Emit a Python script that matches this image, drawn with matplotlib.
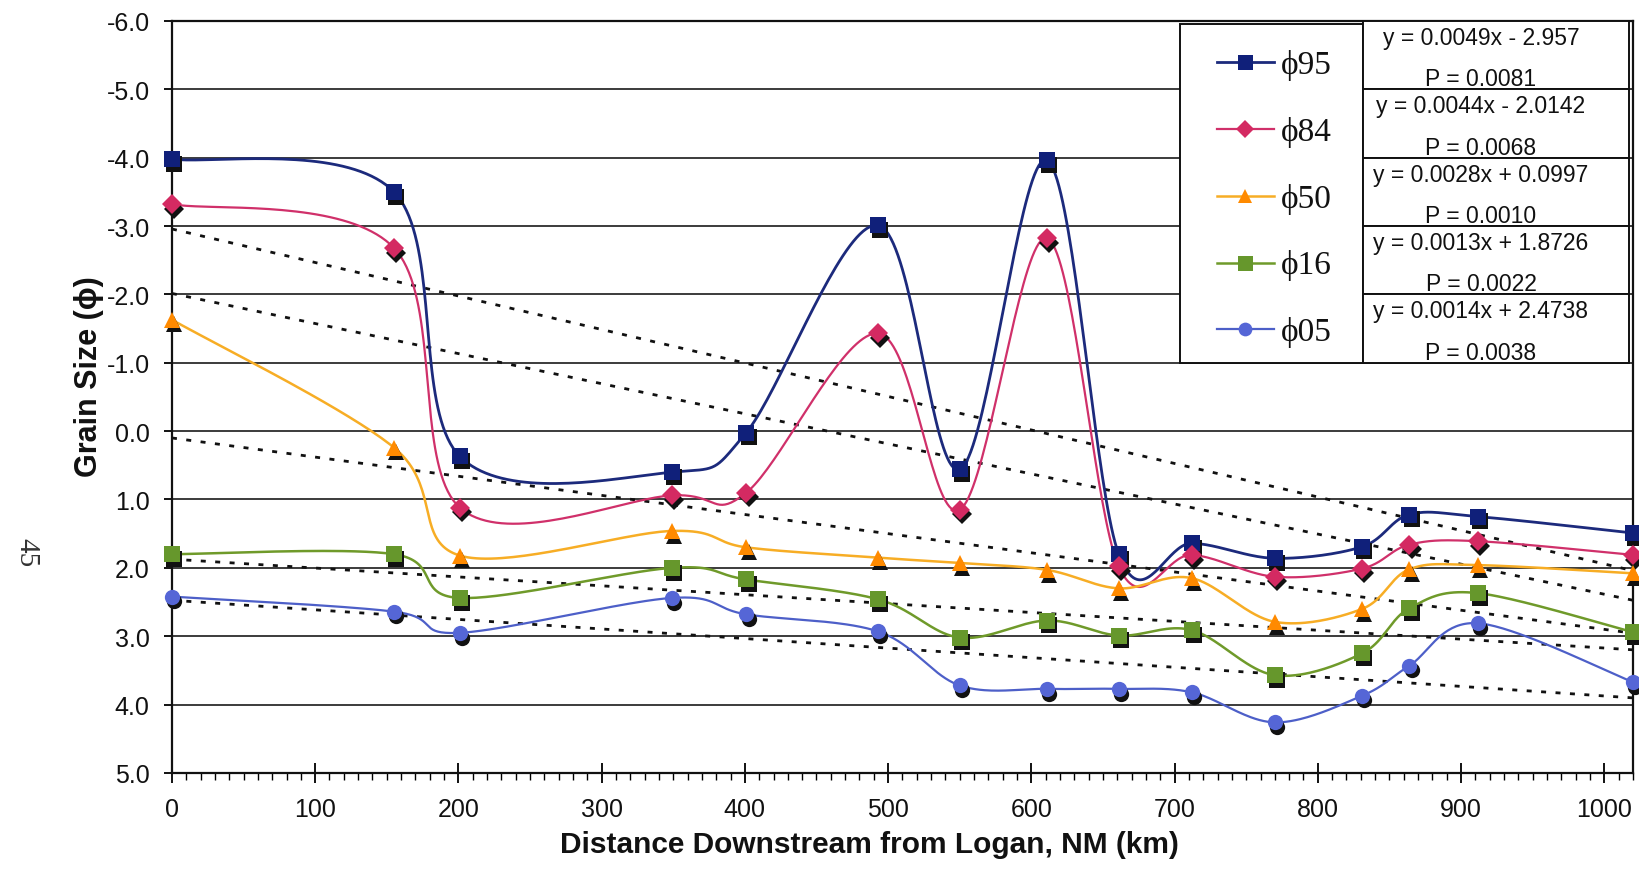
import numpy as np
import matplotlib
matplotlib.use("Agg")
import matplotlib.pyplot as plt
import matplotlib.transforms as mtransforms
from matplotlib.patches import Rectangle
from matplotlib.ticker import MultipleLocator

plt.rcParams['axes.unicode_minus'] = False

# ---------------- data ----------------
distance_km = [0, 155, 201, 349, 401, 493, 550, 611, 661, 712, 770, 831, 864, 912, 1020]
phi95 = [-3.98, -3.50, 0.37, 0.60, 0.02, -3.01, 0.56, -3.96, 1.80, 1.64, 1.86, 1.69, 1.22, 1.25, 1.49]
phi84 = [-3.32, -2.68, 1.12, 0.94, 0.90, -1.43, 1.15, -2.82, 1.98, 1.81, 2.13, 2.01, 1.66, 1.61, 1.81]
phi50 = [-1.63, 0.24, 1.82, 1.46, 1.70, 1.85, 1.93, 2.03, 2.30, 2.15, 2.79, 2.60, 2.02, 1.96, 2.08]
phi16 = [1.80, 1.80, 2.44, 2.00, 2.17, 2.46, 3.02, 2.77, 2.99, 2.91, 3.57, 3.25, 2.59, 2.37, 2.94]
phi05 = [2.42, 2.64, 2.95, 2.44, 2.68, 2.93, 3.72, 3.77, 3.77, 3.82, 4.26, 3.87, 3.43, 2.81, 3.67]

series_names = ["ϕ95", "ϕ84", "ϕ50", "ϕ16", "ϕ05"]
trend_slopes = [0.0049, 0.0044, 0.0028, 0.0013, 0.0014]
trend_intercepts = [-2.957, -2.0142, 0.0997, 1.8726, 2.4738]
equation_labels = ["y = 0.0049x - 2.957", "y = 0.0044x - 2.0142", "y = 0.0028x + 0.0997",
                   "y = 0.0013x + 1.8726", "y = 0.0014x + 2.4738"]
p_labels = ["P = 0.0081", "P = 0.0068", "P = 0.0010", "P = 0.0022", "P = 0.0038"]

x_ticks = [0, 100, 200, 300, 400, 500, 600, 700, 800, 900, 1000]
y_ticks = [-6.0, -5.0, -4.0, -3.0, -2.0, -1.0, 0.0, 1.0, 2.0, 3.0, 4.0, 5.0]

# ---------------- styles ----------------
line_colors = ['#1c2a7c', '#d0306a', '#f7ad25', '#6f9a2a', '#4d5fc8']
marker_colors = ['#10207a', '#d42a62', '#ff8a00', '#66972c', '#5566d6']
markers = ['s', 'D', '^', 's', 'o']
msizes = [12, 10.5, 11.5, 12, 11]
lwidths = [2.0, 1.6, 1.8, 1.8, 1.6]

SANS = ['Liberation Sans', 'DejaVu Sans']
SERIF = ['Liberation Serif', 'DejaVu Serif']


def excel_smooth(x, y, n=40):
    pts = np.column_stack([np.asarray(x, float), np.asarray(y, float)])
    out = []
    t = np.linspace(0, 1, n)[:, None]
    for i in range(len(pts) - 1):
        p0 = pts[i - 1] if i > 0 else pts[i]
        p1 = pts[i]
        p2 = pts[i + 1]
        p3 = pts[i + 2] if i + 2 < len(pts) else pts[i + 1]
        c1 = p1 + (p2 - p0) / 6.0
        c2 = p2 - (p3 - p1) / 6.0
        seg = ((1 - t) ** 3) * p1 + 3 * ((1 - t) ** 2) * t * c1 + 3 * (1 - t) * t ** 2 * c2 + t ** 3 * p2
        out.append(seg if i == 0 else seg[1:])
    s = np.vstack(out)
    return s[:, 0], s[:, 1]


fig = plt.figure(figsize=(16.39, 8.78), dpi=100)
ax = fig.add_axes([0.1049, 0.1185, 0.8914, 0.8565])

XMAX = 1020
ax.set_xlim(0, XMAX)
ax.set_ylim(5.0, -6.0)

# grid
for yv in y_ticks:
    ax.axhline(yv, color='#1a1a1a', lw=1.2, zorder=1)

# trend lines
xt = np.array([0, XMAX], float)
for m, b in zip(trend_slopes, trend_intercepts):
    ax.plot(xt, m * xt + b, color='#111111', lw=2.0, linestyle=(0, (1.8, 3.4)), zorder=2)

all_series = [phi95, phi84, phi50, phi16, phi05]
shadow = mtransforms.offset_copy(ax.transData, fig=fig, x=1.6, y=-3.4, units='points')
for i, ys in enumerate(all_series):
    sx, sy = excel_smooth(distance_km, ys)
    ax.plot(sx, sy, color=line_colors[i], lw=lwidths[i], zorder=3 + i * 0.1, solid_capstyle='round')
    ax.plot(distance_km, ys, linestyle='none', marker=markers[i], ms=msizes[i], color='#111111',
            markeredgewidth=0, transform=shadow, zorder=3.5 + i * 0.1, clip_on=False)
    ax.plot(distance_km, ys, linestyle='none', marker=markers[i], ms=msizes[i], color=marker_colors[i],
            markeredgewidth=0, zorder=3.6 + i * 0.1, clip_on=False)

# axes styling
for sp in ax.spines.values():
    sp.set_color('#111111')
    sp.set_linewidth(1.6)
ax.set_xticks(x_ticks)
ax.set_xticklabels([str(v) for v in x_ticks])
ax.xaxis.set_minor_locator(MultipleLocator(10))
ax.set_yticks(y_ticks)
ax.set_yticklabels([f"{v:.1f}" for v in y_ticks])
ax.tick_params(axis='x', which='major', direction='inout', length=14, width=1.4, pad=10,
               labelsize=18, colors='#111111')
ax.tick_params(axis='x', which='minor', direction='out', length=5, width=1.0)
ax.tick_params(axis='y', which='major', direction='out', length=6, width=1.4, pad=10,
               labelsize=18, colors='#111111')
for lab in ax.get_xticklabels() + ax.get_yticklabels():
    lab.set_family(SANS)

# labels
fig.text(869 / 1639, 1 - 845 / 878, "Distance Downstream from Logan, NM (km)", ha='center', va='center',
         fontsize=21.5, fontweight='bold', family=SANS, color='#111111')
fig.text(89 / 1639, 1 - 377 / 878, "Grain Size (ϕ)", ha='center', va='center', rotation=90,
         fontsize=22, fontweight='bold', family=SANS, color='#111111')
fig.text(26 / 1639, 1 - 553 / 878, "45", ha='center', va='center', rotation=-90,
         fontsize=21, family=SERIF, color='#333333')

# legend box
leg_l, leg_r = 0.690, 0.815
leg_t, leg_b = 0.996, 0.545
ax.add_patch(Rectangle((leg_l, leg_b), leg_r - leg_l, leg_t - leg_b, transform=ax.transAxes,
                       facecolor='white', edgecolor='#111111', lw=1.4, zorder=10, clip_on=False))
row_h = 1.0 / 11.0
for i in range(5):
    yc = 0.945 - i * 0.0888
    ax.plot([0.715, 0.754], [yc, yc], transform=ax.transAxes, color=line_colors[i], lw=lwidths[i],
            zorder=11, clip_on=False)
    ax.plot([0.7345], [yc], transform=ax.transAxes, marker=markers[i], ms=msizes[i] * 0.9,
            color=marker_colors[i], markeredgewidth=0, zorder=12, clip_on=False, linestyle='none')
    ax.text(0.759, yc - 0.003, series_names[i], transform=ax.transAxes, ha='left', va='center',
            fontsize=24, family=SERIF, color='#111111', zorder=12)
    # equation table
    top = 1.0 - i * row_h
    ax.add_patch(Rectangle((leg_r, top - row_h), 0.997 - leg_r, row_h, transform=ax.transAxes,
                           facecolor='white', edgecolor='#111111', lw=1.4, zorder=10, clip_on=False))
    ax.text(0.896, top - 0.022, equation_labels[i], transform=ax.transAxes, ha='center', va='center',
            fontsize=16.5, family=SANS, color='#111111', zorder=12)
    ax.text(0.896, top - 0.077, p_labels[i], transform=ax.transAxes, ha='center', va='center',
            fontsize=16.5, family=SANS, color='#111111', zorder=12)

fig.savefig("out.png", dpi=100, facecolor='white')
